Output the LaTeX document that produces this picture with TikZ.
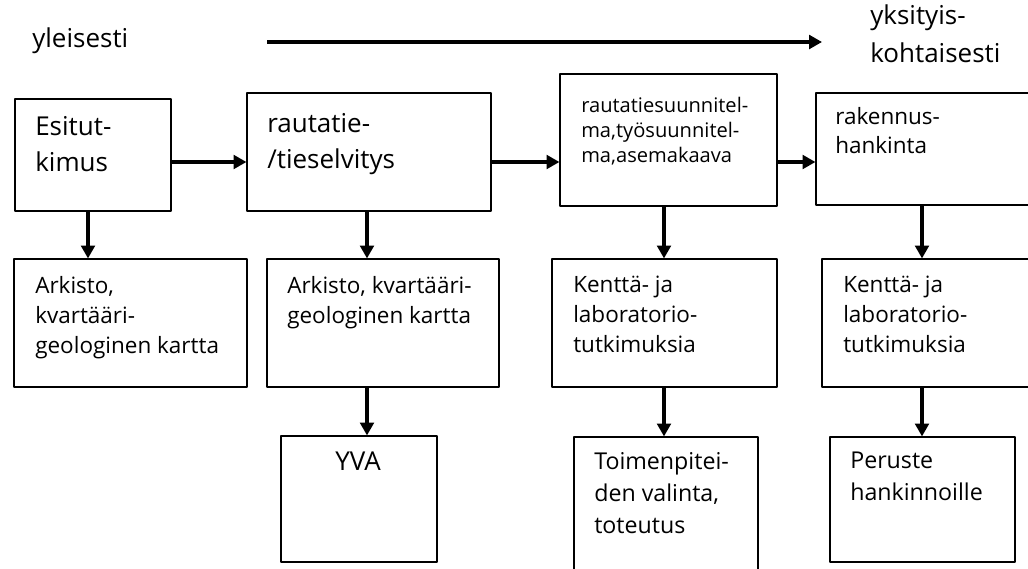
\documentclass[tikz,border=0pt]{standalone}
\usepackage{fontspec}
\setmainfont{Open Sans}
\usetikzlibrary{arrows.meta,fit}

\begin{document}
\begin{tikzpicture}[x=0.25mm, y=-0.25mm, line join=round, >={Triangle[length=3.2mm,width=3.4mm]},
	box/.style={draw, line width=0.8pt, inner sep=0pt},
	txt/.style={anchor=north west, inner sep=0pt, align=left, font=\fontsize{16}{21.3}\selectfont},
	bigtxt/.style={txt, font=\fontsize{18.5}{25.5}\selectfont},
	smalltxt/.style={txt, font=\fontsize{14.3}{17.8}\selectfont},
	arr/.style={->, line width=2.2pt}]
		\useasboundingbox (0,0) rectangle (1028,569);
		\clip (0,0) rectangle (1028,569);
		\node[bigtxt] (gen) at (32,27) {yleisesti};
		\node[bigtxt, font=\fontsize{18.5}{27}\selectfont] (spec) at (870,4) {yksityis-\\kohtaisesti};
		\coordinate (axA) at (267,42);
		\coordinate (axB) at (822,42);
		\draw[arr] (axA) -- (axB);
		\node[box, fit={(15,99) (171,211)}] (esi) {};
		\node[box, fit={(247,93) (491,211)}] (rts) {};
		\node[box, fit={(560,74) (777,206)}] (rsu) {};
		\node[box, fit={(816,93) (1040,205)}] (rak) {};
		\node[bigtxt] (esiT) at (35,116) {Esitut-\\kimus};
		\node[bigtxt] (rtsT) at (267,113) {rautatie-\\/tieselvitys};
		\node[smalltxt] (rsuT) at (581,97) {rautatiesuunnitel-\\ma,työsuunnitel-\\ma,asemakaava};
		\node[txt, font=\fontsize{16}{20.6}\selectfont] (rakT) at (835,107) {rakennus-\\hankinta};
		\node[box, fit={(14,259) (247,387)}] (ark1) {};
		\node[box, fit={(267,259) (499,387)}] (ark2) {};
		\node[box, fit={(552,259) (777,387)}] (ken1) {};
		\node[box, fit={(822,259) (1040,387)}] (ken2) {};
		\node[txt] (ark1T) at (35,276) {Arkisto,\\kvartääri-\\geologinen kartta};
		\node[txt] (ark2T) at (287,276) {Arkisto, kvartääri-\\geologinen kartta};
		\node[txt] (ken1T) at (573,276) {Kenttä- ja\\laboratorio-\\tutkimuksia};
		\node[txt] (ken2T) at (843,276) {Kenttä- ja\\laboratorio-\\tutkimuksia};
		\node[box, fit={(281,436) (437,562)}] (yva) {};
		\node[box, fit={(574,437) (758,600)}] (toim) {};
		\node[box, fit={(830,437) (1015,562)}] (per) {};
		\node[bigtxt, anchor=north] (yvaT) at (358,452) {YVA};
		\node[txt, font=\fontsize{16.5}{22.7}\selectfont] (toimT) at (594,452) {Toimenpitei-\\den valinta,\\toteutus};
		\node[txt, font=\fontsize{16.5}{22.7}\selectfont] (perT) at (850,452) {Peruste\\hankinnoille};
		\coordinate (hrow) at (0,162);
		\draw[arr] (esi.east |- hrow) -- (rts.west |- hrow);
		\draw[arr] (rts.east |- hrow) -- (rsu.west |- hrow);
		\draw[arr] (rsu.east |- hrow) -- (rak.west |- hrow);
		\coordinate (colA) at (88,0);
		\coordinate (colB) at (367,0);
		\coordinate (colC) at (664,0);
		\coordinate (colD) at (922,0);
		\draw[arr] (esi.south -| colA) -- (ark1.north -| colA);
		\draw[arr] (rts.south -| colB) -- (ark2.north -| colB);
		\draw[arr] (ark2.south -| colB) -- (yva.north -| colB);
		\draw[arr] (rsu.south -| colC) -- (ken1.north -| colC);
		\draw[arr] (ken1.south -| colC) -- (toim.north -| colC);
		\draw[arr] (rak.south -| colD) -- (ken2.north -| colD);
		\draw[arr] (ken2.south -| colD) -- (per.north -| colD);
	\end{tikzpicture}
\end{document}
